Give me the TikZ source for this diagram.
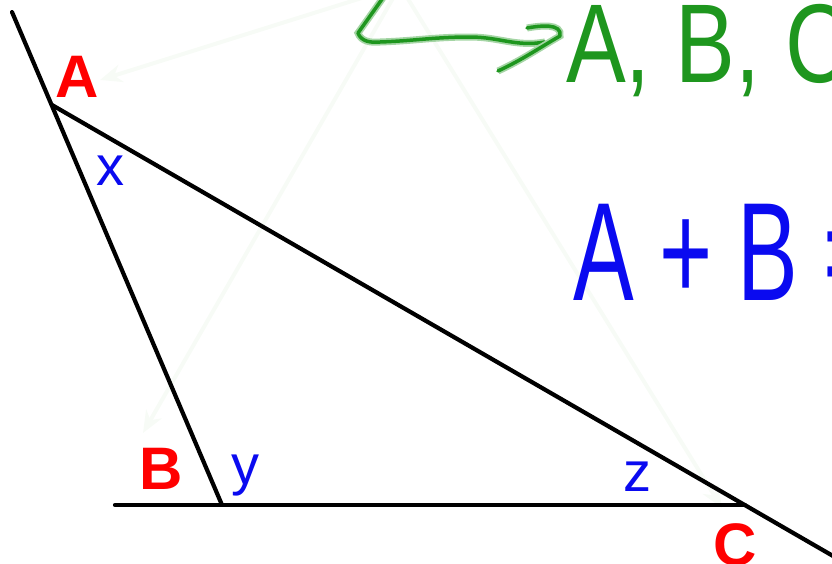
\documentclass[tikz,border=0pt]{standalone}
\usepackage{fontspec}
\setmainfont{Liberation Sans}
\usetikzlibrary{arrows.meta}
\definecolor{penred}{RGB}{255,0,0}
\definecolor{penblue}{RGB}{10,10,240}
\definecolor{pengreen}{RGB}{30,150,30}
\definecolor{faintgreen}{RGB}{247,251,246}
\tikzstyle{vertex} = [
    text=penred,
    font=\bfseries\fontsize{60}{60}\selectfont,
    anchor=base,
    inner sep=0pt
]
\tikzstyle{anglelabel} = [
    text=penblue,
    font=\fontsize{56}{56}\selectfont,
    anchor=base,
    inner sep=0pt
]
\tikzstyle{handtext} = [
    anchor=base west,
    inner sep=0pt
]
\tikzstyle{side} = [line width=4.2pt, line cap=round]
\tikzstyle{ghost} = [faintgreen, line width=4pt, -{Stealth[length=22pt,width=18pt]}]
\tikzstyle{ink} = [
    pengreen,
    line width=3.5pt,
    line cap=round,
    line join=round,
    preaction={draw=pengreen!40, line width=7pt}
]

\begin{document}
\begin{tikzpicture}[x=1pt, y=-1pt]

\useasboundingbox (0,0) rectangle (832,563);
\clip (0,0) rectangle (832,563);

% faint guide arrows
\coordinate (apex) at (400,-14);
\coordinate (toA) at (100,80);
\coordinate (toB) at (143,433);
\coordinate (toC) at (722,508);
\draw [ghost] (apex) -- (toA);
\draw [ghost] (apex) -- (toB);
\draw [ghost] (apex) -- (toC);

% triangle
\coordinate (A) at (52,105);
\coordinate (B) at (222,505);
\coordinate (C) at (745,505);
\coordinate (Aend) at (12,12);
\coordinate (Bend) at (115,505);
\coordinate (Cend) at (840,560);
\draw [side] (Aend) -- (B);
\draw [side] (A) -- (Cend);
\draw [side] (Bend) -- (C);

\node (labA) [vertex] at (77,97) {A};
\node (labB) [vertex] at (161,489) {B};
\node (labC) [vertex] at (735,565) {C};

\node (angX) [anglelabel] at (110,185) {x};
\node (angY) [anglelabel] at (245,484) {y};
\node (angZ) [anglelabel] at (637,491) {z};

% handwritten notes
\draw [ink] (385,-5) -- (358,33) to[out=-70,in=185] (380,42)
    to[out=2,in=180] (470,37) to[out=0,in=190] (545,42);
\draw [ink] (527,28) to[out=10,in=80] (560,36) to[out=-150,in=25] (498,71);

\node (angles) [handtext, text=pengreen,
    font=\fontsize{112}{112}\selectfont] at (566,82)
{\scalebox{0.8}[1]{A, B, C}};

\node (sum) [handtext, text=penblue,
    font=\fontsize{140}{140}\selectfont] at (573,300)
{\scalebox{0.65}[1]{A + B =}};

\end{tikzpicture}
\end{document}
